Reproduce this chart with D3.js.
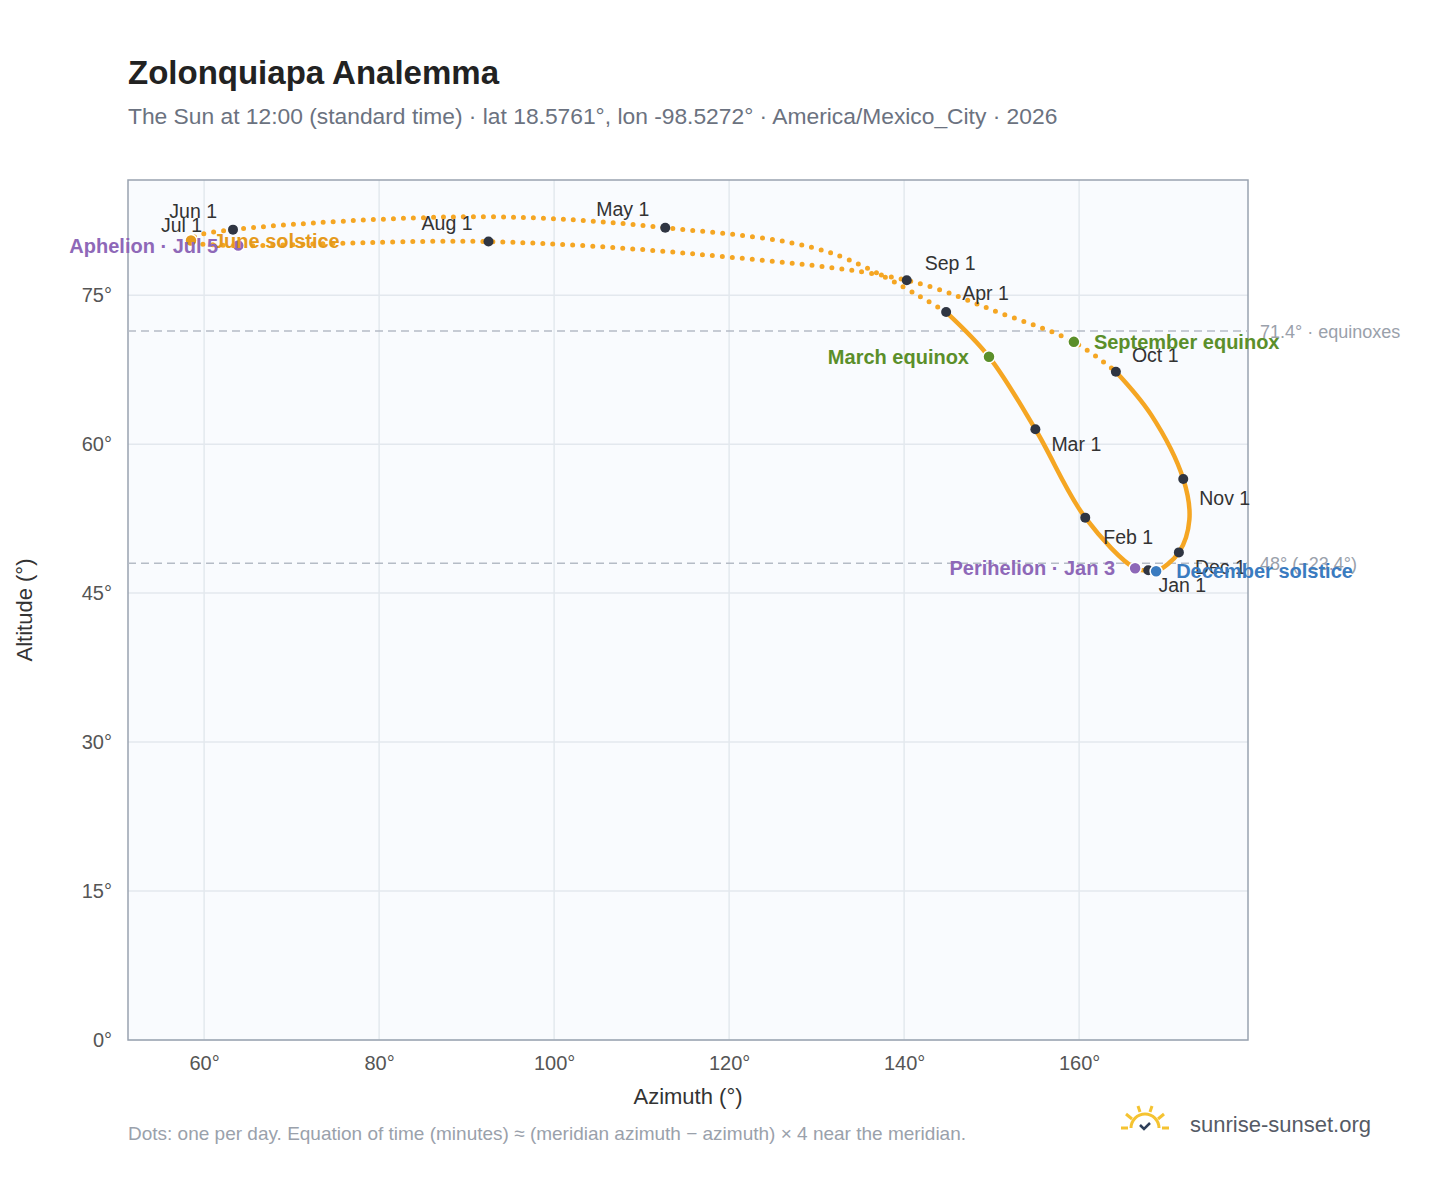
<!DOCTYPE html>
<html><head><meta charset="utf-8">
<script src="https://cdn.jsdelivr.net/npm/d3@7"></script>
<style>
body{margin:0;background:#fff;font-family:"Liberation Sans",Arial,sans-serif}
</style></head><body>
<svg id="c" width="1448" height="1188"></svg>
<script>
// path keyframes (day label, azimuth, altitude)
var pathDays = ["Jan 1","Jan 3","Feb 1","Mar 1","Mar 20","Apr 1","Apr 15","May 1","May 15","Jun 1","Jun 21","Jul 1","Jul 5","Jul 15","Aug 1","Aug 15","Sep 1","Sep 15","Sep 23","Oct 1","Oct 15","Nov 1","Nov 15","Dec 1","Dec 21","Dec 31"];
var pathAz  = [167.9,166.4,160.7,155.0,149.7,144.8,131.5,112.7,91.5,63.3,59.0,58.4,63.9,74.4,92.5,116.7,140.3,151.0,159.4,164.2,168.2,171.9,172.6,171.4,168.8,167.9];
var pathAlt = [47.3,47.5,52.6,61.5,68.8,73.3,79.3,81.8,82.9,81.6,80.9,80.4,80.0,80.2,80.4,79.1,76.5,73.2,70.3,67.3,63.0,56.5,52.4,49.1,47.2,47.3];
// slow (dense, solid-looking) stretch of the year
var denseFrom = "Oct 1", denseTo = "Apr 1";

var monthNames = ["Jan 1","Feb 1","Mar 1","Apr 1","May 1","Jun 1","Jul 1","Aug 1","Sep 1","Oct 1","Nov 1","Dec 1"];
var monthAz  = [167.9,160.7,155.0,144.8,112.7,63.3,58.4,92.5,140.3,164.2,171.9,171.4];
var monthAlt = [47.3,52.6,61.5,73.3,81.8,81.6,80.4,80.4,76.5,67.3,56.5,49.1];
var monthDx = [34,18,16,16,-16,-16,12,-16,18,16,16,16];
var monthDy = [16,20,16,-18,-18,-18,-16,-18,-16,-16,20,16];
var monthAnchor = ["middle","start","start","start","end","end","end","end","start","start","start","start"];

var eventNames = ["March equinox","September equinox","December solstice","June solstice","Perihelion · Jan 3","Aphelion · Jul 5"];
var eventAz  = [149.7,159.4,168.8,58.5,166.4,63.9];
var eventAlt = [68.8,70.3,47.2,80.5,47.5,80.0];
var eventColor = ["#5b8f2a","#5b8f2a","#3a7bc0","#e59a1c","#8e68b8","#8e68b8"];
var eventDx = [-20,20,20,22,-20,-20];
var eventAnchor = ["end","start","start","start","end","end"];

var refAlt = [71.4, 48];
var refLabel = ["71.4° · equinoxes","48° (−23.4°)"];
var xTicks = [60,80,100,120,140,160];
var yTicks = [0,15,30,45,60,75];

var svg = d3.select("#c");
var L=128,R=1248,T=180,B=1040;
var x = d3.scaleLinear().domain([51.3,179.3]).range([L,R]);
var y = d3.scaleLinear().domain([0,86.6]).range([B,T]);

svg.append("text").attr("x",128).attr("y",84).text("Zolonquiapa Analemma")
  .attr("font-size",33).attr("font-weight","bold").attr("fill","#222");
svg.append("text").attr("x",128).attr("y",124).attr("font-size",22.8).attr("fill","#6b7280")
  .text("The Sun at 12:00 (standard time) · lat 18.5761°, lon -98.5272° · America/Mexico_City · 2026");

svg.append("rect").attr("x",L).attr("y",T).attr("width",R-L).attr("height",B-T).attr("fill","#f9fbfe");
var g = svg.append("g");
xTicks.forEach(function(t){ g.append("line").attr("x1",x(t)).attr("x2",x(t)).attr("y1",T).attr("y2",B).attr("stroke","#e3e8ee").attr("stroke-width",1.5); });
yTicks.forEach(function(t){ g.append("line").attr("x1",L).attr("x2",R).attr("y1",y(t)).attr("y2",y(t)).attr("stroke","#e3e8ee").attr("stroke-width",1.5); });
svg.append("rect").attr("x",L).attr("y",T).attr("width",R-L).attr("height",B-T).attr("fill","none").attr("stroke","#99a3b0").attr("stroke-width",1.5);

svg.append("g").attr("transform","translate(0,"+B+")")
  .call(d3.axisBottom(x).tickValues(xTicks).tickFormat(function(d){return d+"°";}).tickSize(0).tickPadding(16))
  .call(function(a){a.select(".domain").remove(); a.selectAll("text").attr("font-size",20).attr("fill","#555").attr("font-family","Liberation Sans, Arial");});
svg.append("g").attr("transform","translate("+L+",0)")
  .call(d3.axisLeft(y).tickValues(yTicks).tickFormat(function(d){return d+"°";}).tickSize(0).tickPadding(16))
  .call(function(a){a.select(".domain").remove(); a.selectAll("text").attr("font-size",20).attr("fill","#555").attr("font-family","Liberation Sans, Arial");});
svg.append("text").attr("x",(L+R)/2).attr("y",1104).attr("text-anchor","middle").attr("font-size",22).attr("fill","#333").text("Azimuth (°)");
svg.append("text").attr("transform","translate(32,"+((T+B)/2)+") rotate(-90)").attr("text-anchor","middle").attr("font-size",22).attr("fill","#333").text("Altitude (°)");

refAlt.forEach(function(a,i){
  svg.append("line").attr("x1",L).attr("x2",R).attr("y1",y(a)).attr("y2",y(a)).attr("stroke","#b5bcc6").attr("stroke-width",1.5).attr("stroke-dasharray","8 5");
  svg.append("text").attr("x",R+12).attr("y",y(a)+7).attr("font-size",18).attr("fill","#9aa1ab").text(refLabel[i]);
});

var pts = pathDays.map(function(d,i){return {d:d,az:pathAz[i],alt:pathAlt[i]};});
var line = d3.line().x(function(p){return x(p.az);}).y(function(p){return y(p.alt);}).curve(d3.curveCatmullRom.alpha(0.5));
var iA = pathDays.indexOf(denseTo), iB = pathDays.indexOf(denseFrom);
var dense1 = pts.slice(iB), dense2 = pts.slice(0,iA+1), sparse = pts.slice(iA,iB+1);
var pg = svg.append("g");
[dense1,dense2].forEach(function(seg){
  pg.append("path").attr("d",line(seg)).attr("fill","none").attr("stroke","#f5a623").attr("stroke-width",4.5).attr("stroke-linecap","round");
});
pg.append("path").attr("d",line(sparse)).attr("fill","none").attr("stroke","#f5a623").attr("stroke-width",5).attr("stroke-linecap","round").attr("stroke-dasharray","0 10");

monthNames.forEach(function(m,i){
  svg.append("circle").attr("cx",x(monthAz[i])).attr("cy",y(monthAlt[i])).attr("r",5).attr("fill","#2f3542");
});
eventNames.forEach(function(e,i){
  svg.append("circle").attr("cx",x(eventAz[i])).attr("cy",y(eventAlt[i])).attr("r",6).attr("fill",eventColor[i]).attr("stroke","#fff").attr("stroke-width",1.5);
});
monthNames.forEach(function(m,i){
  svg.append("text").attr("x",x(monthAz[i])+monthDx[i]).attr("y",y(monthAlt[i])+monthDy[i]+6).attr("text-anchor",monthAnchor[i])
    .attr("font-size",19.5).attr("fill","#333").text(m);
});
eventNames.forEach(function(e,i){
  svg.append("text").attr("x",x(eventAz[i])+eventDx[i]).attr("y",y(eventAlt[i])+7).attr("text-anchor",eventAnchor[i])
    .attr("font-size",20).attr("font-weight","bold").attr("fill",eventColor[i]).text(e);
});

svg.append("text").attr("x",128).attr("y",1140).attr("font-size",19).attr("fill","#9aa1ab")
  .text("Dots: one per day. Equation of time (minutes) ≈ (meridian azimuth − azimuth) × 4 near the meridian.");
var logo = svg.append("g").attr("transform","translate(1145,1128)");
logo.append("path").attr("d","M-14,0 A14,14 0 0 1 14,0").attr("fill","none").attr("stroke","#f5c331").attr("stroke-width",3);
[[-24,0,-17,0],[17,0,24,0],[-19,-14,-13,-9],[19,-14,13,-9],[-7,-22,-5,-16],[7,-22,5,-16]].forEach(function(r){
  logo.append("line").attr("x1",r[0]).attr("y1",r[1]).attr("x2",r[2]).attr("y2",r[3]).attr("stroke","#f5c331").attr("stroke-width",3);
});
logo.append("path").attr("d","M-5,-3 L-1,1 L5,-5").attr("fill","none").attr("stroke","#2f3f5a").attr("stroke-width",2.5);
svg.append("text").attr("x",1190).attr("y",1132).attr("font-size",22).attr("fill","#555b66").text("sunrise-sunset.org");
</script></body></html>
